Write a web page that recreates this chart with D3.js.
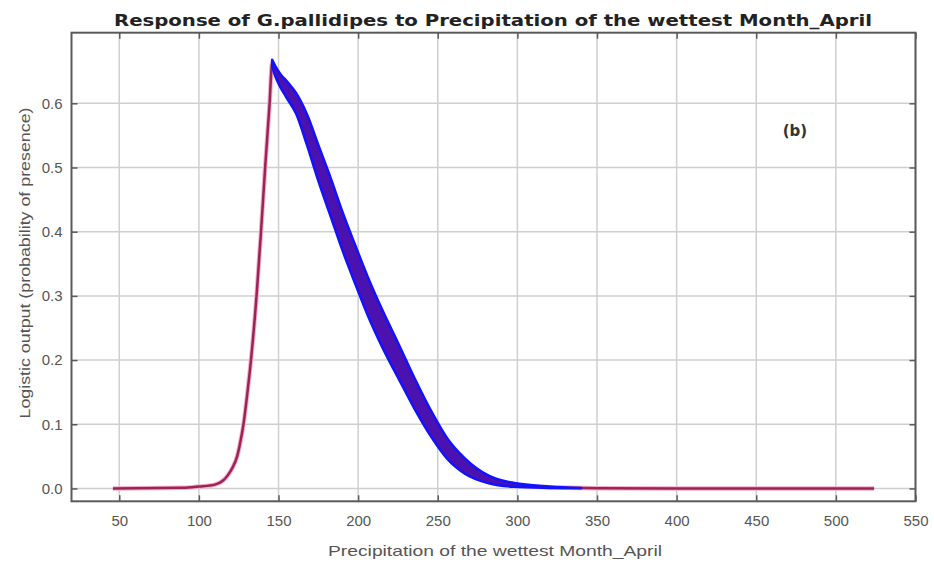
<!DOCTYPE html>
<html>
<head>
<meta charset="utf-8">
<script src="https://cdn.jsdelivr.net/npm/d3@7"></script>
<style>
  html, body { margin: 0; padding: 0; background: #fff; }
  svg { display: block; }
  text { font-family: 'Liberation Sans', Arial, sans-serif; }
</style>
</head>
<body>
<div id="chart"></div>
<script>
/* ------------------------------- data ------------------------------- */
// mean response curve (red)
var precip = [46, 90, 100, 110, 115, 118, 121, 124, 126, 128, 130.5, 132.7, 136.2, 139, 141.6, 144.4, 146,
  148, 151, 155, 161, 168, 175, 183, 190, 198, 206, 215, 225, 235, 246, 256, 267, 282, 298, 320, 350, 400, 524];
var meanResp = [0, 0.001, 0.003, 0.006, 0.012, 0.02, 0.032, 0.05, 0.072, 0.1, 0.15, 0.2, 0.3, 0.4, 0.5, 0.6, 0.663,
  0.65, 0.636, 0.622, 0.6, 0.558, 0.507, 0.452, 0.402, 0.35, 0.3, 0.25, 0.2, 0.15, 0.1, 0.062, 0.035, 0.014, 0.0055, 0.002, 0.0005, 0, 0];
// mean +/- sd band (blue)
var bandPrecip = [146, 148, 151, 155, 161, 168, 175, 183, 190, 198, 206, 215, 225, 235, 246, 256, 267, 282, 298, 320, 340];
var bandLow = [0.658, 0.642, 0.626, 0.609, 0.584, 0.534, 0.479, 0.422, 0.372, 0.32, 0.27, 0.221, 0.173, 0.126, 0.08,
  0.046, 0.023, 0.008, 0.0025, 0.0008, 0.0002];
var bandHigh = [0.668, 0.658, 0.646, 0.635, 0.616, 0.582, 0.535, 0.482, 0.432, 0.38, 0.33, 0.279, 0.227, 0.174, 0.12,
  0.078, 0.047, 0.02, 0.0085, 0.0032, 0.0008];
var xTicks = [50, 100, 150, 200, 250, 300, 350, 400, 450, 500, 550];
var yTicks = [0, 0.1, 0.2, 0.3, 0.4, 0.5, 0.6];

/* ------------------------------- sizes ------------------------------- */
var width = 934;
var height = 563;
var plot = { left: 71.5, right: 915.5, top: 32.7, bottom: 501.3 };

var svg = d3.select('#chart').append('svg')
    .attr('width', width)
    .attr('height', height);

var x = d3.scaleLinear().domain([20, 550]).range([plot.left, plot.right]);
var y = d3.scaleLinear().domain([-0.02, 0.71]).range([plot.bottom, plot.top]);

/* ------------------------------- grid ------------------------------- */
var grid = svg.append('g').attr('class', 'grid');
grid.selectAll('line.gx')
    .data(xTicks)
    .enter()
    .append('line')
    .attr('x1', function(d) { return x(d); })
    .attr('x2', function(d) { return x(d); })
    .attr('y1', plot.top)
    .attr('y2', plot.bottom)
    .attr('stroke', '#cfcfcf')
    .attr('stroke-width', 1.5);
grid.selectAll('line.gy')
    .data(yTicks)
    .enter()
    .append('line')
    .attr('x1', plot.left)
    .attr('x2', plot.right)
    .attr('y1', function(d) { return y(d); })
    .attr('y2', function(d) { return y(d); })
    .attr('stroke', '#cfcfcf')
    .attr('stroke-width', 1.5);

/* ------------------------------- curves ------------------------------- */
var meanData = precip.map(function(p, i) { return { p: p, v: meanResp[i] }; });
var bandData = bandPrecip.map(function(p, i) { return { p: p, lo: bandLow[i], hi: bandHigh[i] }; });

var line = d3.line()
    .x(function(d) { return x(d.p); })
    .y(function(d) { return y(d.v); })
    .curve(d3.curveMonotoneX);

var area = d3.area()
    .x(function(d) { return x(d.p); })
    .y0(function(d) { return y(d.lo); })
    .y1(function(d) { return y(d.hi); })
    .curve(d3.curveMonotoneX);

svg.append('path')
    .datum(meanData)
    .attr('d', line)
    .attr('fill', 'none')
    .attr('stroke', '#f4b0c8')
    .attr('stroke-width', 4.5);
svg.append('path')
    .datum(meanData)
    .attr('d', line)
    .attr('fill', 'none')
    .attr('stroke', '#9c2258')
    .attr('stroke-width', 2.5);

svg.append('path')
    .datum(bandData)
    .attr('d', area)
    .attr('fill', '#4c12b0')
    .attr('stroke', '#1212ff')
    .attr('stroke-width', 2.5)
    .attr('stroke-linejoin', 'round');

/* ------------------------------- frame and ticks ------------------------------- */
var axes = svg.append('g').attr('class', 'axes');
var tickLen = 6;
var axisColor = '#5a5a5a';

axes.append('g')
    .attr('transform', 'translate(0,' + plot.bottom + ')')
    .call(d3.axisBottom(x).tickValues(xTicks).tickSizeInner(-tickLen).tickSizeOuter(0).tickPadding(14).tickFormat(d3.format('d')));
axes.append('g')
    .attr('transform', 'translate(0,' + plot.top + ')')
    .call(d3.axisTop(x).tickValues(xTicks).tickSizeInner(-tickLen).tickSizeOuter(0).tickFormat(''));
axes.append('g')
    .attr('transform', 'translate(' + plot.left + ',0)')
    .call(d3.axisLeft(y).tickValues(yTicks).tickSizeInner(-tickLen).tickSizeOuter(0).tickPadding(9).tickFormat(d3.format('.1f')));
axes.append('g')
    .attr('transform', 'translate(' + plot.right + ',0)')
    .call(d3.axisRight(y).tickValues(yTicks).tickSizeInner(-tickLen).tickSizeOuter(0).tickFormat(''));

axes.selectAll('.domain').remove();
axes.selectAll('.tick line').attr('stroke', axisColor).attr('stroke-width', 1.5);
axes.selectAll('.tick text')
    .attr('fill', '#555')
    .style('font-size', '15px')
    .style('font-family', "'Liberation Sans', Arial, sans-serif");

svg.append('rect')
    .attr('x', plot.left)
    .attr('y', plot.top)
    .attr('width', plot.right - plot.left)
    .attr('height', plot.bottom - plot.top)
    .attr('fill', 'none')
    .attr('stroke', axisColor)
    .attr('stroke-width', 2);

/* ------------------------------- texts ------------------------------- */
svg.append('text')
    .attr('x', 493)
    .attr('y', 26)
    .attr('text-anchor', 'middle')
    .attr('textLength', 758)
    .attr('lengthAdjust', 'spacingAndGlyphs')
    .style('font-family', "'DejaVu Sans', sans-serif")
    .style('font-weight', 'bold')
    .style('font-size', '16px')
    .attr('fill', '#222')
    .text('Response of G.pallidipes to Precipitation of the wettest Month_April');

svg.append('text')
    .attr('x', 495)
    .attr('y', 556)
    .attr('text-anchor', 'middle')
    .attr('textLength', 334)
    .attr('lengthAdjust', 'spacingAndGlyphs')
    .style('font-size', '15px')
    .attr('fill', '#555')
    .text('Precipitation of the wettest Month_April');

svg.append('text')
    .attr('transform', 'translate(30,263) rotate(-90)')
    .attr('text-anchor', 'middle')
    .attr('textLength', 311)
    .attr('lengthAdjust', 'spacingAndGlyphs')
    .style('font-size', '15px')
    .attr('fill', '#555')
    .text('Logistic output (probability of presence)');

svg.append('text')
    .attr('x', 795)
    .attr('y', 136)
    .attr('text-anchor', 'middle')
    .style('font-family', "'DejaVu Sans', sans-serif")
    .style('font-weight', 'bold')
    .style('font-size', '15px')
    .attr('fill', '#333')
    .text('(b)');
</script>
</body>
</html>
